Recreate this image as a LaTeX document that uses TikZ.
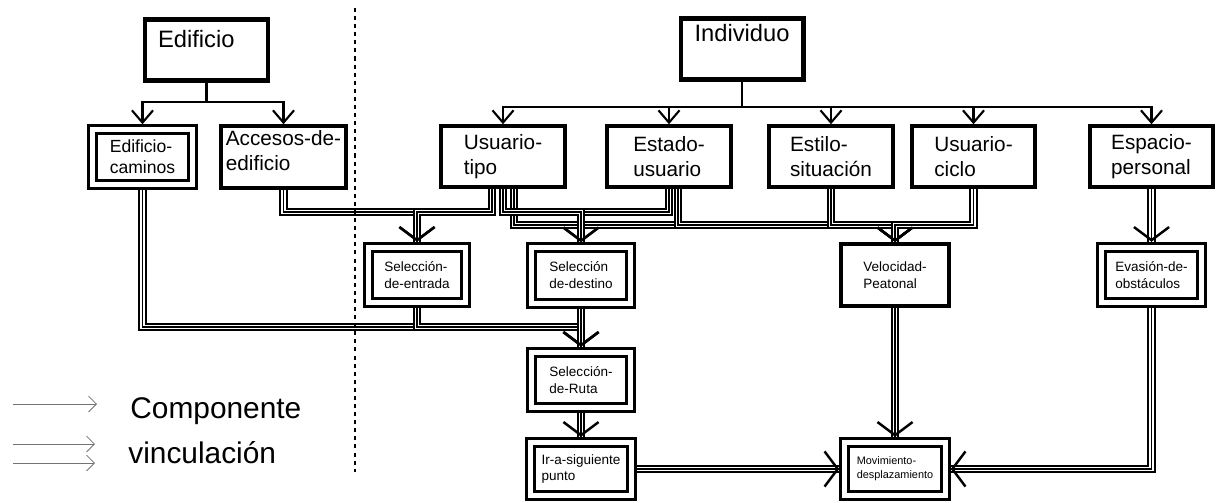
\documentclass[tikz,border=0pt]{standalone}
\usepackage{fontspec}
\setmainfont{Liberation Sans}
\usetikzlibrary{arrows.meta,decorations.markings}

\tikzset{
  % boxes
  topbox/.style={draw, line width=2.3pt, minimum width=2.46cm, minimum height=1.22cm,
    inner sep=0pt, font=\fontsize{13.5}{16}\selectfont},
  midbox/.style={draw, line width=2.3pt, minimum width=2.47cm, minimum height=1.21cm,
    inner sep=0pt, align=left, font=\fontsize{11.8}{14.2}\selectfont},
  dblbox/.style={draw, double, line width=1.7pt, double distance=0.1cm, outer sep=0.11cm,
    minimum width=2.0cm, minimum height=1.11cm, inner sep=0pt, align=left,
    font=\fontsize{7.7}{9.6}\selectfont},
  plainbox/.style={draw, line width=2.1pt, minimum width=2.16cm, minimum height=1.24cm,
    inner sep=0pt, align=left, font=\fontsize{7.7}{9.6}\selectfont},
  % connectors
  comp/.style={line width=1.2pt, -{Straight Barb[length=7pt,width=12pt,line width=1.2pt]}},
  vinc/.style={line width=4.6pt, postaction={draw=white, line width=2.6pt},
    postaction={draw=black, line width=0.95pt}},
  vincarrow/.style={vinc, postaction={decorate, decoration={markings,
    mark=at position 1 with {\arrow[line width=1.4pt]{Straight Barb[length=7.5pt,width=20pt]}}}}},
  % legend
  legline/.style={draw=black!55, line width=0.5pt,
    -{Straight Barb[length=4.5pt,width=9pt,line width=0.5pt]}},
  legtext/.style={inner sep=0pt, anchor=west, font=\fontsize{17}{20}\selectfont},
  divider/.style={line width=0.8pt, dash pattern=on 2.3pt off 2.3pt}
}

\begin{document}
\begin{tikzpicture}[x=0.02cm, y=-0.02cm]
\useasboundingbox (0,0) rectangle (1223,503);

% upper level
\node[topbox, text width=1.94cm, align=left, text depth=13pt] (edif) at (206.5,50) {Edificio};
\node[topbox, text depth=18pt] (indiv) at (742,49) {Individuo};

% second level
\node[dblbox, minimum width=1.99cm, minimum height=1.09cm, line width=1.8pt,
      font=\fontsize{10}{12}\selectfont] (edcam) at (142.5,157) {Edificio-\\caminos};
\node[midbox, minimum width=2.49cm, minimum height=1.23cm, text height=15pt] (acc) at (283.5,157) {Accesos-de-\\edificio};
\node[midbox] (utipo) at (503,156.5) {Usuario-\\tipo};
\node[midbox] (estado) at (669,156.5) {Estado-\\usuario};
\node[midbox] (estilo) at (831,156.5) {Estilo-\\situación};
\node[midbox] (uciclo) at (973.5,156.5) {Usuario-\\ciclo};
\node[midbox] (espacio) at (1151.5,156.5) {Espacio-\\personal};

% third level
\node[dblbox, minimum width=1.95cm] (entrada) at (417,275) {Selección-\\de-entrada};
\node[dblbox, minimum width=1.99cm] (destino) at (581,275.5) {Selección\\de-destino};
\node[plainbox] (velocidad) at (895,275) {Velocidad-\\Peatonal};
\node[dblbox, minimum width=2.01cm] (evasion) at (1151.5,275) {Evasión-de-\\obstáculos};

% lower levels
\node[dblbox, minimum width=1.99cm] (ruta) at (581,380) {Selección-\\de-Ruta};
\node[dblbox, minimum width=2.02cm, minimum height=1.07cm] (ir) at (581,469) {Ir-a-siguiente\\punto};
\node[dblbox, minimum width=2.01cm, minimum height=1.07cm,
      font=\fontsize{6.2}{8}\selectfont] (mov) at (895,469) {Movimiento-\\desplazamiento};

% component links
\draw[comp] (edif.south) -- (edif.south |- 0,102) -| (edcam.north);
\draw[comp] (edif.south) -- (edif.south |- 0,102) -| (acc.north);
\foreach \child in {utipo,estado,estilo,uciclo,espacio}
  \draw[comp] (indiv.south) -- (indiv.south |- 0,107) -| (\child.north);

% links into the speed box
\draw[vincarrow] ([xshift=0.22cm]utipo.south) |- (velocidad.north |- 0,225) -- (velocidad.north);
\draw[vincarrow] ([xshift=0.18cm]estado.south) |- (velocidad.north |- 0,225) -- (velocidad.north);
\draw[vincarrow] (estilo.south) |- (velocidad.north |- 0,225) -- (velocidad.north);
\draw[vincarrow] (uciclo.south) |- (velocidad.north |- 0,225) -- (velocidad.north);

% links into the entrance selection
\draw[vincarrow] (acc.south) |- (entrada.north |- 0,212) -- (entrada.north);
\draw[vincarrow] ([xshift=-0.22cm]utipo.south) |- (entrada.north |- 0,212) -- (entrada.north);

% links into the destination selection
\draw[vincarrow] (estado.south) |- (destino.north |- 0,212) -- (destino.north);
\draw[vincarrow] (utipo.south) |- (destino.north |- 0,212) -- (destino.north);

% route selection
\draw[vincarrow] (edcam.south) |- (ruta.north |- 0,327) -- (ruta.north);
\draw[vincarrow] (entrada.south) |- (ruta.north |- 0,327) -- (ruta.north);
\draw[vincarrow] (destino.south) -- (ruta.north);
\draw[vincarrow] (ruta.south) -- (ir.north);

% movement
\draw[vincarrow] (espacio.south) -- (evasion.north);
\draw[vincarrow] (ir.east) -- (mov.west);
\draw[vincarrow] (velocidad.south) -- (mov.north);
\draw[vincarrow] (evasion.south) |- (mov.east);

% divider
\coordinate (dtop) at (355,8);
\coordinate (dbot) at (355,472);
\draw[divider] (dtop) -- (dbot);

% legend
\coordinate (la1) at (13,404);  \coordinate (la2) at (97,404);
\coordinate (lb1) at (13,444);  \coordinate (lb2) at (95,444);
\coordinate (lc1) at (13,463);  \coordinate (lc2) at (95,463);
\draw[legline] (la1) -- (la2);
\draw[legline] (lb1) -- (lb2);
\draw[legline] (lc1) -- (lc2);
\node[legtext] (lcomp) at (130,411) {Componente};
\node[legtext] (lvinc) at (128,453) {vinculación};
\end{tikzpicture}
\end{document}
